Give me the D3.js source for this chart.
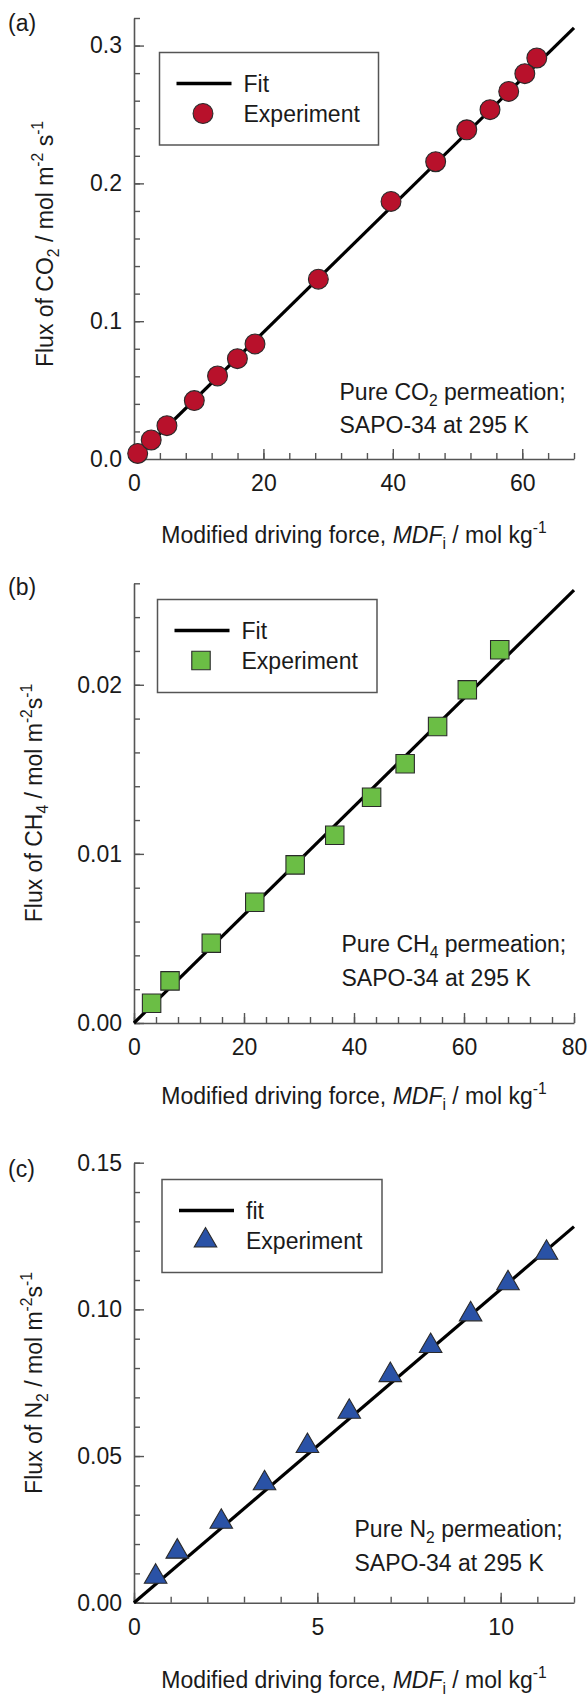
<!DOCTYPE html>
<html><head><meta charset="utf-8">
<script src="https://cdn.jsdelivr.net/npm/d3@7"></script>
<style>
body{margin:0;background:#fff}
svg text{font-family:"Liberation Sans",Arial,Helvetica,sans-serif;fill:#1a1a1a}
</style>
</head><body>
<svg id="c" width="588" height="1695"></svg>
<script>
// ---------- Panel (a): CO2 ----------
const co2MDF  = [0.57, 2.66, 5.09, 9.32, 12.91, 15.98, 18.70, 28.49, 39.72, 46.62, 51.43, 55.02, 57.91, 60.40, 62.25];
const co2Flux = [0.004, 0.0138, 0.0242, 0.0424, 0.0603, 0.0728, 0.0835, 0.1305, 0.1869, 0.2157, 0.2389, 0.2535, 0.2667, 0.2796, 0.291];
const co2FitX = [0, 68];
const co2FitY = [0, 0.3128];
const co2XTicks = [0, 20, 40, 60];
const co2YTicks = [0.0, 0.1, 0.2, 0.3];
const co2YLabels = ["0.0", "0.1", "0.2", "0.3"];

// ---------- Panel (b): CH4 ----------
const ch4MDF  = [3.2, 6.55, 14.05, 21.96, 29.3, 36.5, 43.2, 49.3, 55.2, 60.6, 66.5];
const ch4Flux = [0.00117, 0.00249, 0.00472, 0.00714, 0.00935, 0.0111, 0.01335, 0.01533, 0.01753, 0.0197, 0.02207];
const ch4FitX = [0, 80];
const ch4FitY = [0, 0.0256];
const ch4XTicks = [0, 20, 40, 60, 80];
const ch4YTicks = [0.00, 0.01, 0.02];
const ch4YLabels = ["0.00", "0.01", "0.02"];

// ---------- Panel (c): N2 ----------
const n2MDF  = [0.59, 1.18, 2.38, 3.56, 4.73, 5.87, 6.99, 8.09, 9.18, 10.2, 11.25];
const n2Flux = [0.00886, 0.0174, 0.0276, 0.0407, 0.0534, 0.0651, 0.0776, 0.0875, 0.0983, 0.1089, 0.1193];
const n2FitX = [0, 12];
const n2FitY = [0, 0.1282];
const n2XTicks = [0, 5, 10];
const n2YTicks = [0.00, 0.05, 0.10, 0.15];
const n2YLabels = ["0.00", "0.05", "0.10", "0.15"];

const svg = d3.select("#c");
const FS = 23;
const AXC = "#555";

function richText(sel, parts, fs) {
  let cur = 0;
  parts.forEach(p => {
    const target = p.sub ? fs * 0.28 : p.sup ? -fs * 0.42 : 0;
    const t = sel.append("tspan").text(p.t).attr("dy", target - cur);
    if (p.sub || p.sup) t.attr("font-size", fs * 0.68);
    if (p.it) t.attr("font-style", "italic");
    cur = target;
  });
}

function panel(cfg) {
  const L = 134, R = 574;
  const x = d3.scaleLinear().domain(cfg.xDomain).range([L, R]);
  const y = d3.scaleLinear().domain(cfg.yDomain).range([cfg.yBottom, cfg.yTop]);
  const g = svg.append("g");

  const styleAxis = s => {
    s.selectAll("line").attr("stroke", AXC).attr("stroke-width", 1.4);
    s.selectAll("path.domain").attr("stroke", AXC).attr("stroke-width", 1.6);
    s.attr("font-family", null).attr("font-size", null);
    s.selectAll("text").attr("font-size", FS).attr("fill", "#1a1a1a");
  };

  // minor ticks
  g.append("g").attr("transform", `translate(0,${cfg.yBottom})`)
    .call(d3.axisBottom(x).tickValues(d3.range(cfg.xDomain[0], cfg.xDomain[1] + 1e-9, cfg.xMinor)).tickSize(-6).tickFormat(""))
    .call(s => s.select(".domain").remove()).call(styleAxis);
  g.append("g").attr("transform", `translate(${L},0)`)
    .call(d3.axisLeft(y).tickValues(d3.range(0, cfg.yDomain[1] + 1e-9, cfg.yMinor)).tickSize(-6).tickFormat(""))
    .call(s => s.select(".domain").remove()).call(styleAxis);
  // major
  g.append("g").attr("transform", `translate(0,${cfg.yBottom})`)
    .call(d3.axisBottom(x).tickValues(cfg.xTicks).tickSizeInner(-10).tickSizeOuter(0).tickPadding(16).tickFormat(d3.format("d")))
    .call(styleAxis);
  g.append("g").attr("transform", `translate(${L},0)`)
    .call(d3.axisLeft(y).tickValues(cfg.yTicks).tickSizeInner(-10).tickSizeOuter(0).tickPadding(12).tickFormat((d, i) => cfg.yLabels[i]))
    .call(styleAxis);

  // fit line
  const line = d3.line().x(d => x(d[0])).y(d => y(d[1]));
  g.append("path").datum(d3.zip(cfg.fitX, cfg.fitY)).attr("d", line)
    .attr("fill", "none").attr("stroke", "#000").attr("stroke-width", 3.2);

  // markers
  const sym = d3.symbol().type(cfg.symbol).size(cfg.symSize);
  g.selectAll("path.pt").data(d3.zip(cfg.xs, cfg.ys)).join("path").attr("class", "pt")
    .attr("transform", d => `translate(${x(d[0])},${y(d[1])})`)
    .attr("d", sym).attr("fill", cfg.color).attr("stroke", "#2a2a2a").attr("stroke-width", 1.1);

  // legend
  const lg = cfg.legend;
  g.append("rect").attr("x", lg.x).attr("y", lg.y).attr("width", lg.w).attr("height", lg.h)
    .attr("fill", "#fff").attr("stroke", AXC).attr("stroke-width", 1.5);
  g.append("line").attr("x1", lg.x + 17).attr("x2", lg.x + 72).attr("y1", lg.y + 31).attr("y2", lg.y + 31)
    .attr("stroke", "#000").attr("stroke-width", 3.5);
  g.append("text").attr("x", lg.x + 84).attr("y", lg.y + 39).attr("font-size", FS).text(lg.fitLabel);
  g.append("path").attr("transform", `translate(${lg.x + 43.5},${lg.y + 61})`).attr("d", sym)
    .attr("fill", cfg.color).attr("stroke", "#2a2a2a").attr("stroke-width", 1.1);
  g.append("text").attr("x", lg.x + 84).attr("y", lg.y + 69.5).attr("font-size", FS).text("Experiment");

  // panel label
  g.append("text").attr("x", 8).attr("y", cfg.labelY).attr("font-size", FS).text(cfg.label);

  // annotation
  const a1 = g.append("text").attr("x", cfg.annX).attr("y", cfg.annY).attr("font-size", FS);
  richText(a1, cfg.annParts, FS);
  g.append("text").attr("x", cfg.annX).attr("y", cfg.annY + 33.5).attr("font-size", FS).text("SAPO-34 at 295 K");

  // y title
  const yt = g.append("text").attr("text-anchor", "middle").attr("font-size", FS)
    .attr("transform", `translate(${cfg.yTitleX},${cfg.yTitleY}) rotate(-90)`);
  richText(yt, cfg.yTitle, FS);

  // x title
  const xt = g.append("text").attr("text-anchor", "middle").attr("font-size", FS)
    .attr("x", (L + R) / 2).attr("y", cfg.xTitleY);
  richText(xt, [{t: "Modified driving force, "}, {t: "MDF", it: true}, {t: "i", sub: true}, {t: " / mol kg"}, {t: "-1", sup: true}], FS);
}

panel({
  label: "(a)", labelY: 31,
  xDomain: [0, 68], yDomain: [0, 0.32], yTop: 18, yBottom: 459,
  xTicks: co2XTicks, xMinor: 4, yTicks: co2YTicks, yLabels: co2YLabels, yMinor: 0.02,
  xs: co2MDF, ys: co2Flux, fitX: co2FitX, fitY: co2FitY,
  symbol: d3.symbolCircle, symSize: 310, color: "#B8112B",
  legend: {x: 159.5, y: 52.5, w: 219, h: 92.5, fitLabel: "Fit"},
  annX: 339.5, annY: 399.5,
  annParts: [{t: "Pure CO"}, {t: "2", sub: true}, {t: " permeation;"}],
  yTitleX: 53, yTitleY: 244,
  yTitle: [{t: "Flux of CO"}, {t: "2", sub: true}, {t: " / mol m"}, {t: "-2", sup: true}, {t: " s"}, {t: "-1", sup: true}],
  xTitleY: 542.5
});

panel({
  label: "(b)", labelY: 595,
  xDomain: [0, 80], yDomain: [0, 0.026], yTop: 583.3, yBottom: 1023,
  xTicks: ch4XTicks, xMinor: 4, yTicks: ch4YTicks, yLabels: ch4YLabels, yMinor: 0.002,
  xs: ch4MDF, ys: ch4Flux, fitX: ch4FitX, fitY: ch4FitY,
  symbol: d3.symbolSquare, symSize: 340, color: "#6BBE45",
  legend: {x: 157.5, y: 599.5, w: 219.5, h: 93, fitLabel: "Fit"},
  annX: 341.5, annY: 952,
  annParts: [{t: "Pure CH"}, {t: "4", sub: true}, {t: " permeation;"}],
  yTitleX: 42, yTitleY: 803,
  yTitle: [{t: "Flux of CH"}, {t: "4", sub: true}, {t: " / mol m"}, {t: "-2", sup: true}, {t: "s"}, {t: "-1", sup: true}],
  xTitleY: 1104
});

panel({
  label: "(c)", labelY: 1177,
  xDomain: [0, 12], yDomain: [0, 0.15], yTop: 1162.7, yBottom: 1602.7,
  xTicks: n2XTicks, xMinor: 1, yTicks: n2YTicks, yLabels: n2YLabels, yMinor: 0.01,
  xs: n2MDF, ys: n2Flux, fitX: n2FitX, fitY: n2FitY,
  symbol: d3.symbolTriangle, symSize: 220, color: "#2A52A6",
  legend: {x: 162, y: 1179.5, w: 220, h: 93, fitLabel: "fit"},
  annX: 354.5, annY: 1537,
  annParts: [{t: "Pure N"}, {t: "2", sub: true}, {t: " permeation;"}],
  yTitleX: 42, yTitleY: 1383,
  yTitle: [{t: "Flux of N"}, {t: "2", sub: true}, {t: " / mol m"}, {t: "-2", sup: true}, {t: "s"}, {t: "-1", sup: true}],
  xTitleY: 1688
});
</script>
</body></html>
